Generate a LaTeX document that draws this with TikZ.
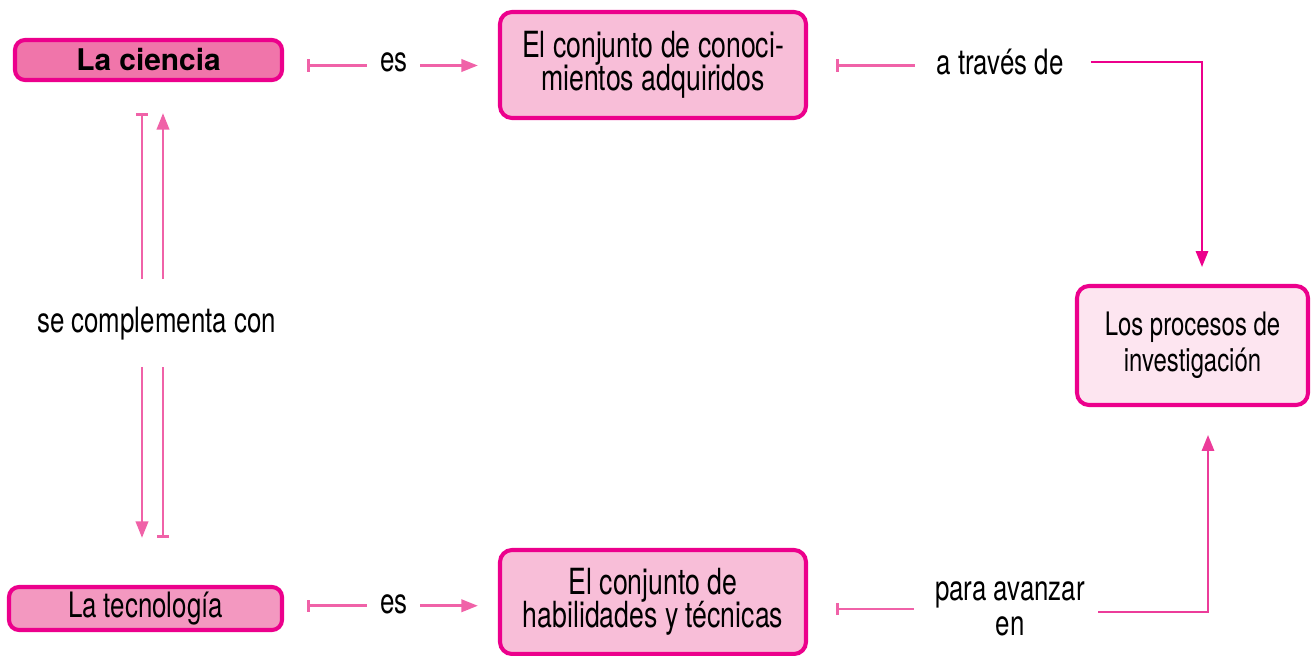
\documentclass[tikz,border=0pt]{standalone}
\usepackage{fontspec}
\usepackage{xcolor}
\usetikzlibrary{arrows.meta, calc, positioning}
\setmainfont[FakeStretch=0.74]{TeX Gyre Heros}
\newfontfamily\anchafont{TeX Gyre Heros}
\definecolor{bordemagenta}{RGB}{236,0,140}
\definecolor{enlacerosa}{RGB}{240,98,168}
\definecolor{rutarosa}{RGB}{236,60,154}
\definecolor{fillciencia}{RGB}{240,117,170}
\definecolor{filltecno}{RGB}{243,152,192}
\definecolor{fillconj}{RGB}{248,190,216}
\definecolor{fillproc}{RGB}{253,229,240}
\newcommand\cajafont{\fontsize{20.5}{18.6}\selectfont\lineskiplimit=-100pt}
\newcommand\etiqfont{\fontsize{19.9}{20}\selectfont\lineskiplimit=-100pt}

\begin{document}
\begin{tikzpicture}[>=Triangle,
    caja/.style={draw=bordemagenta, line width=2.3pt, rounded corners=0.24cm, align=center, inner sep=0pt},
    etiq/.style={inner sep=0pt, align=center, font=\etiqfont},
    conbarra/.style={draw=enlacerosa, line width=1.7pt, {Bar[width=7pt]}-},
    conflecha/.style={draw=enlacerosa, line width=1.7pt, -{Triangle[length=9.5pt,width=7pt]}},
    ruta/.style={line width=1.1pt, -{Triangle[length=9pt,width=7pt]}}]
    \useasboundingbox (0,0) rectangle (26.24,13.1);

    % Cajas
    \node[caja, fill=fillciencia, minimum width=5.34cm, minimum height=0.8cm, rounded corners=0.2cm,
          font=\anchafont\fontsize{17}{20}\selectfont\bfseries] (ciencia) at (2.97,11.90) {La ciencia};
    \node[caja, fill=filltecno, minimum width=5.46cm, minimum height=0.86cm, rounded corners=0.2cm,
          font=\etiqfont] (tecno) at (2.91,0.93) {La tecnología};
    \node[caja, fill=fillconj, minimum width=6.12cm, minimum height=2.12cm, font=\cajafont] (conocim) at (13.06,11.80)
        {El conjunto de conoci-\\mientos adquiridos};
    \node[caja, fill=fillconj, minimum width=6.12cm, minimum height=2.08cm, font=\cajafont] (habil) at (13.06,1.06)
        {El conjunto de\\habilidades y técnicas};
    \node[caja, fill=fillproc, minimum width=4.62cm, minimum height=2.38cm,
          font=\fontsize{18.4}{20.5}\selectfont] (procesos) at (23.85,6.19)
        {Los procesos de\\investigación};

    % Etiquetas
    \node[etiq] (compl) at (3.13,6.62) {se complementa con};
    \node[etiq] (esA) at (7.88,11.86) {es};
    \node[etiq] (esB) at (7.88,1.02) {es};
    \node[etiq] (traves) at (20.0,11.86) {a través de};
    \node[etiq] (avanzar) at (20.2,0.92) {para avanzar\\en};

    % Fila superior
    \draw[conbarra, shorten <=0.46cm, shorten >=0.26cm] ([yshift=-2pt]esA.west -| ciencia.east) -- ([yshift=-2pt]esA.west);
    \draw[conflecha, shorten <=0.24cm, shorten >=0.4cm] ([yshift=-2pt]esA.east) -- ([yshift=-2pt]esA.east -| conocim.west);
    \draw[conbarra, shorten <=0.56cm, shorten >=0.42cm] ([yshift=-2pt]traves.west -| conocim.east) -- ([yshift=-2pt]traves.west);
    \draw[ruta, draw=bordemagenta, shorten <=0.54cm, shorten >=0.34cm]
        (traves.east) -| ([xshift=0.19cm]procesos.north);

    % Fila inferior
    \draw[conbarra, shorten <=0.46cm, shorten >=0.26cm] ([yshift=-1pt]esB.west -| tecno.east) -- ([yshift=-1pt]esB.west);
    \draw[conflecha, shorten <=0.24cm, shorten >=0.4cm] ([yshift=-1pt]esB.east) -- ([yshift=-1pt]esB.east -| habil.west);
    \draw[conbarra, shorten <=0.56cm, shorten >=0.42cm] (avanzar.west -| habil.east) -- (avanzar.west);
    \draw[ruta, draw=rutarosa, shorten <=0.26cm, shorten >=0.56cm]
        ([yshift=-1.7pt]avanzar.east) -| ([xshift=0.31cm]procesos.south);

    % Verticales
    \draw[conbarra, shorten <=0.62cm, shorten >=0.56cm] ([xshift=-0.29cm]compl.north |- ciencia.south) -- ([xshift=-0.29cm]compl.north);
    \draw[conflecha, shorten <=0.56cm, shorten >=0.62cm] ([xshift=0.13cm]compl.north) -- ([xshift=0.13cm]compl.north |- ciencia.south);
    \draw[conflecha, shorten <=0.52cm, shorten >=0.94cm] ([xshift=-0.29cm]compl.south) -- ([xshift=-0.29cm]compl.south |- tecno.north);
    \draw[conbarra, shorten <=0.94cm, shorten >=0.52cm] ([xshift=0.13cm]compl.south |- tecno.north) -- ([xshift=0.13cm]compl.south);
\end{tikzpicture}
\end{document}
